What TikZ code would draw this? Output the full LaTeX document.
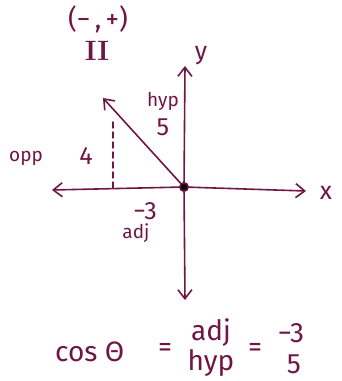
\documentclass[tikz,border=0pt]{standalone}
\usepackage{fontspec}
\setmainfont{Fira Sans}
\newfontfamily\romanfont{Latin Modern Roman}
\usetikzlibrary{arrows.meta}
\definecolor{ink}{RGB}{112,22,68}
\begin{document}
\begin{tikzpicture}[x=1pt,y=-1pt,
  ink/.style={draw=ink,line width=1.6pt,line cap=round},
  axisarrow/.style={ink,-{Straight Barb[length=9pt,width=14pt,line width=1.6pt]}},
  lbl/.style={text=ink,font=\fontsize{25}{27}\selectfont,inner sep=0pt},
  smalllbl/.style={text=ink,font=\fontsize{19}{20}\selectfont,inner sep=0pt},
  eqlbl/.style={text=ink,font=\fontsize{28}{30}\selectfont,inner sep=0pt}]
\useasboundingbox (0,0) rectangle (341,381);
\coordinate (O) at (184,187);
\coordinate (xl) at (52,190);
\coordinate (xr) at (306,191);
\coordinate (yt) at (185,66);
\coordinate (yb) at (185,300);
\coordinate (P) at (103,98);
\coordinate (foot) at (113,188);
\coordinate (dtop) at (113,121);
% axes
\draw[axisarrow] (O) -- (xl);
\draw[axisarrow] (O) -- (xr);
\draw[axisarrow] (O) -- (yt);
\draw[axisarrow] (O) -- (yb);
% hypotenuse
\draw[axisarrow] (O) -- (P);
% dashed opposite side
\draw[ink,line width=1.4pt,dash pattern=on 6pt off 4pt] (foot) -- (dtop);
% origin dot
\fill[ink] (O) circle (4.2pt);
% labels
\node[lbl] (X) at (326,193) {x};
\node[lbl] (Y) at (201,56) {y};
\node[smalllbl] (hyp) at (163,101) {hyp};
\node[lbl] (five) at (163,127) {5};
\node[lbl] (four) at (86,156) {4};
\node[smalllbl] (opp) at (26,158) {opp};
\node[lbl] (m3) at (145,211) {−3};
\node[smalllbl] (adj) at (136,233) {adj};
\node[text=ink,font=\fontsize{27}{29}\selectfont,inner sep=0pt] (signs) at (98,19) {(−\,,\,+)};
\node[text=ink,font=\fontsize{28}{30}\selectfont\romanfont\bfseries,inner sep=0pt] (quad) at (97,51) {II};
% equation
\node[eqlbl,anchor=west] (cos) at (55,352) {cos Θ};
\node[eqlbl] (eq1) at (165,350) {=};
\node[eqlbl] (num1) at (211,333) {adj};
\node[eqlbl] (den1) at (211,363) {hyp};
\node[eqlbl] (eq2) at (255,350) {=};
\node[eqlbl] (num2) at (291,333) {−3};
\node[eqlbl] (den2) at (294,364) {5};
\end{tikzpicture}
\end{document}
